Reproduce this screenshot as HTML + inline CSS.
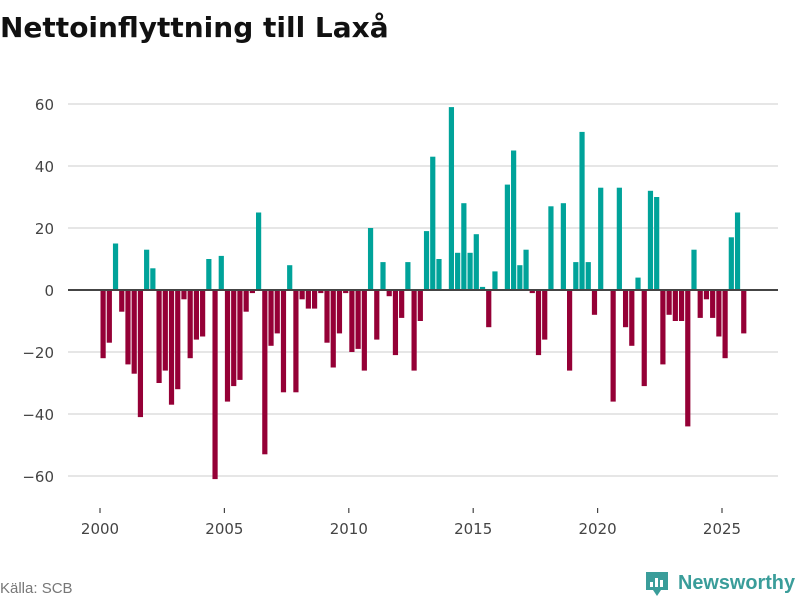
<!DOCTYPE html>
<html><head><meta charset="utf-8"><style>
body{margin:0;background:#fff;font-family:"DejaVu Sans","Liberation Sans",sans-serif;}
#wrap{position:relative;width:800px;height:600px;overflow:hidden;}
</style></head><body>
<div id="wrap">
<svg id="chart" width="800" height="600" font-family="DejaVu Sans, Liberation Sans, sans-serif">
<text x="0" y="37" font-size="28" font-weight="bold" fill="#111">Nettoinflyttning till Laxå</text>
<g id="grid"></g><g id="bars"></g><g id="axes"></g>
<text x="0" y="593" font-size="15" fill="#777" font-family="Liberation Sans, sans-serif">Källa: SCB</text>
<g>
<path d="M646 572 h22 v18 h-7 l-4 6 l-4 -6 h-7 z" fill="#3a9d9a"/>
<rect x="650" y="582" width="3" height="5" fill="#fff"/><rect x="655" y="578" width="3" height="9" fill="#fff"/><rect x="660" y="580" width="3" height="7" fill="#fff"/>
<text x="678" y="589" font-size="20" font-weight="bold" fill="#3a9d9a" font-family="Liberation Sans, sans-serif" textLength="117" lengthAdjust="spacingAndGlyphs">Newsworthy</text>
</g>
</svg>
</div>
<script>
const startYear = 2000;
const values = [
-22,-17,15,-7, -24,-27,-41,13, 7,-30,-26,-37, -32,-3,-22,-16,
-15,10,-61,11, -36,-31,-29,-7, -1,25,-53,-18, -14,-33,8,-33,
-3,-6,-6,-1, -17,-25,-14,-1, -20,-19,-26,20, -16,9,-2,-21,
-9,9,-26,-10, 19,43,10,0, 59,12,28,12, 18,1,-12,6,
0,34,45,8, 13,-1,-21,-16, 27,0,28,-26, 9,51,9,-8,
33,0,-36,33, -12,-18,4,-31, 32,30,-24,-8, -10,-10,-44,13,
-9,-3,-9,-15, -22,17,25,-14];
const yTicks = [60,40,20,0,-20,-40,-60];
const xTicks = [2000,2005,2010,2015,2020,2025];
const NS="http://www.w3.org/2000/svg";
const x = t => 100 + (t-2000)*24.88;
const y = v => 290 - v*3.1;
const grid=document.getElementById('grid'), bars=document.getElementById('bars'), axes=document.getElementById('axes');
function mk(tag,attrs,parent){const e=document.createElementNS(NS,tag);for(const k in attrs)e.setAttribute(k,attrs[k]);parent.appendChild(e);return e;}
yTicks.forEach(v=>{
  if(v!==0){const l=mk('line',{x1:68,x2:778,y1:y(v),y2:y(v),stroke:'#ddd','stroke-width':1.5},grid);
  
  }
  const t=mk('text',{x:54,y:y(v)+6,'text-anchor':'end','font-size':15,fill:'#444'},axes);
  t.textContent=(v<0?'−'+(-v):v);
  
  
});
values.forEach((v,i)=>{
  const t=startYear+i/4;
  const r=mk('rect',{x:x(t)+0.5,width:5.2,y:Math.min(y(v),y(0)),height:Math.abs(y(v)-y(0)),fill:v>=0?'#00a39a':'#950036'},bars);
  
  
});
const z=mk('line',{x1:68,x2:778,y1:y(0),y2:y(0),stroke:'#444','stroke-width':2},axes);


xTicks.forEach(yr=>{
  const tk=mk('line',{x1:x(yr),x2:x(yr),y1:508,y2:513,stroke:'#444','stroke-width':1.2},axes);
  
  
  const t=mk('text',{x:x(yr),y:534,'text-anchor':'middle','font-size':15,fill:'#444'},axes);
  t.textContent=yr;
  
  
});
</script>
</body></html>
